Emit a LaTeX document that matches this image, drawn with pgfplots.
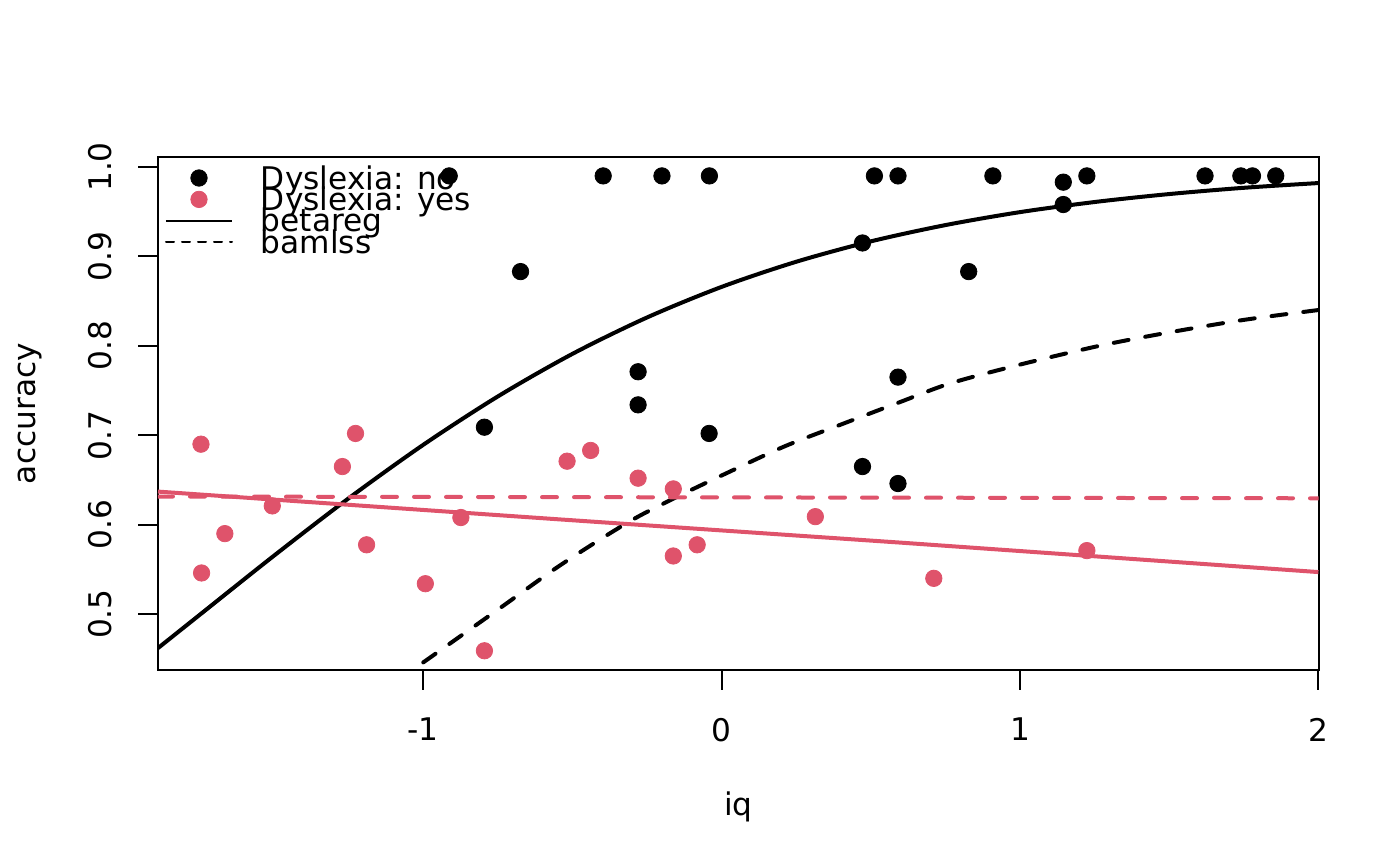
\documentclass[border=0pt]{standalone}
\usepackage{fontspec}
\setmainfont{DejaVu Sans}
\usepackage{pgfplots}
\pgfplotsset{compat=1.18}
\definecolor{rred}{HTML}{DF536B}
\newcommand{\rfont}{\fontsize{15.6}{18.7}\selectfont}
\begin{document}
\rfont
\begin{tikzpicture}
\path[use as bounding box] (-79pt,-98pt) rectangle (621pt,335pt);
\begin{axis}[
  at={(0pt,0pt)}, anchor=south west,
  scale only axis, width=580.35pt, height=256.35pt,
  xmin=-1.889, xmax=2.001, ymin=0.4375, ymax=1.0108,
  axis line style={line width=1pt, black},
  every tick/.style={black, line width=1pt},
  tick align=outside, major tick length=9.75pt,
  xtick pos=bottom, ytick pos=left,
  xtick={-1,0,1,2}, xticklabels={-1,0,1,2},
  ytick={0.5,0.6,0.7,0.8,0.9,1.0}, yticklabels={0.5,0.6,0.7,0.8,0.9,1.0},
  ticklabel style={font=\rfont, inner sep=0pt, outer sep=0pt},
  xticklabel style={anchor=north}, xticklabel shift=14.25pt,
  yticklabel style={rotate=90, anchor=south}, yticklabel shift=13.5pt,
  label style={font=\rfont, inner sep=0pt, outer sep=0pt},
  xlabel={iq}, ylabel={accuracy},
  xlabel style={at={(axis description cs:0.5,-0.2828)}, anchor=base},
  ylabel style={at={(axis description cs:-0.1055,0.5)}, anchor=base},
  legend cell align=left,
  legend style={at={(axis description cs:0,1)}, anchor=north west,
    xshift=4pt, yshift=-10.5pt, draw=none, fill=none,
    inner sep=0pt, outer sep=0pt, row sep=0pt,
    nodes={inner sep=0pt, outer sep=0pt, text height=5.35pt, text depth=5.35pt, font=\rfont},
    /tikz/every odd column/.append style={column sep=47.5pt}},
]
% Dyslexia: no
\addplot[only marks, mark=*, mark size=4.1pt, black, forget plot] coordinates {
(-0.913,0.99) (-0.397,0.99) (-0.200,0.99) (-0.041,0.99) (0.512,0.99) (0.591,0.99)
(0.909,0.99) (1.224,0.99) (1.620,0.99) (1.740,0.99) (1.779,0.99) (1.857,0.99)
(1.145,0.983) (1.145,0.958) (-0.674,0.883) (0.828,0.883) (0.472,0.915)
(-0.280,0.771) (-0.280,0.734) (-0.795,0.709) (-0.042,0.702) (0.591,0.765)
(0.472,0.665) (0.591,0.646)
};
% Dyslexia: yes
\addplot[only marks, mark=*, mark size=4.1pt, rred, forget plot] coordinates {
(-1.745,0.690) (-1.743,0.546) (-1.665,0.590) (-1.506,0.621) (-1.271,0.665)
(-1.227,0.702) (-1.190,0.5775) (-0.993,0.534) (-0.874,0.608) (-0.795,0.459)
(-0.518,0.671) (-0.439,0.683) (-0.280,0.652) (-0.162,0.640) (-0.162,0.565)
(-0.082,0.5775) (0.314,0.609) (0.711,0.540) (1.224,0.571)
};
% betareg
\addplot[black, line width=2pt, smooth, no markers, forget plot] coordinates {
(-1.889,0.4620) (-1.75,0.4990) (-1.5,0.5654) (-1.25,0.6295) (-1.0,0.6893)
(-0.75,0.7434) (-0.5,0.7910) (-0.25,0.8317) (0,0.8659) (0.25,0.8940)
(0.5,0.9168) (0.75,0.9350) (1.0,0.9495) (1.25,0.9608) (1.5,0.9697)
(1.75,0.9767) (2.0,0.9820)
};
\addplot[rred, line width=2pt, no markers, forget plot] coordinates {
(-1.889,0.637) (-0.547,0.606) (0.597,0.580) (2.0,0.547)
};
% bamlss
\addplot[black, line width=2pt, smooth, no markers, dash pattern=on 7.5pt off 8.5pt, line cap=round, forget plot] coordinates {
(-1.0,0.446) (-0.75,0.505) (-0.557,0.551) (-0.4,0.585) (-0.28,0.609)
(-0.138,0.633) (0,0.655) (0.207,0.687) (0.4,0.712) (0.597,0.737)
(0.766,0.758) (1.0,0.779) (1.266,0.800) (1.5,0.815) (1.75,0.829) (2.0,0.840)
};
\addplot[rred, line width=2pt, no markers, dash pattern=on 7.5pt off 8.5pt, line cap=round, forget plot] coordinates {
(-1.889,0.6315) (2.0,0.6295)
};
\addlegendimage{legend image code/.code={\fill[black, overlay] (16.5pt,5.5pt) circle[radius=4.1pt];}}
\addlegendentry{Dyslexia: no}
\addlegendimage{legend image code/.code={\fill[rred, overlay] (16.5pt,5.5pt) circle[radius=4.1pt];}}
\addlegendentry{Dyslexia: yes}
\addlegendimage{legend image code/.code={\draw[black, line width=1pt, overlay] (0pt,5.5pt) -- (33pt,5.5pt);}}
\addlegendentry{betareg}
\addlegendimage{legend image code/.code={\draw[black, line width=1pt, dash pattern=on 4pt off 4pt, line cap=round, overlay] (0pt,5.5pt) -- (33pt,5.5pt);}}
\addlegendentry{bamlss}
\end{axis}
\end{tikzpicture}
\end{document}
